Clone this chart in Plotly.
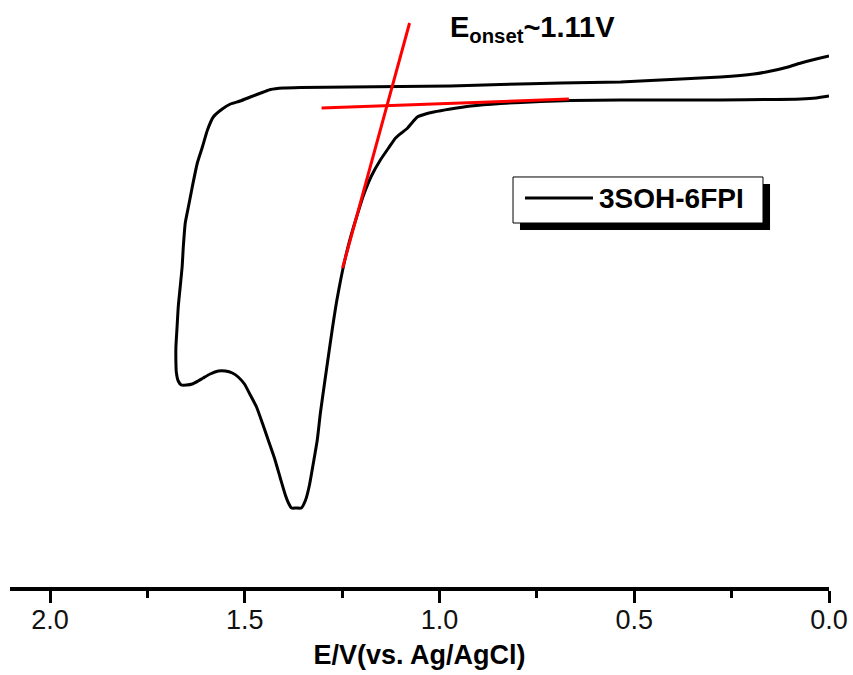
import plotly.graph_objects as go

# Cyclic voltammogram of 3SOH-6FPI (potential in V vs. Ag/AgCl, current in arbitrary units)
potential = [0.000, 0.033, 0.072, 0.105, 0.149, 0.193, 0.278, 0.380, 0.535, 0.689,
             0.843, 0.972, 1.100, 1.229, 1.357, 1.401, 1.434, 1.452, 1.486, 1.512,
             1.537, 1.558, 1.581, 1.596, 1.609, 1.622, 1.635, 1.645, 1.653, 1.658,
             1.661, 1.666, 1.671, 1.674, 1.677, 1.677, 1.676, 1.671, 1.663, 1.650,
             1.635, 1.620, 1.607, 1.589, 1.568, 1.550, 1.532, 1.517, 1.501, 1.486,
             1.470, 1.455, 1.440, 1.424, 1.409, 1.396, 1.388, 1.380, 1.368, 1.355,
             1.344, 1.334, 1.324, 1.314, 1.306, 1.296, 1.285, 1.275, 1.265, 1.254,
             1.242, 1.229, 1.213, 1.195, 1.175, 1.152, 1.131, 1.113, 1.098, 1.082,
             1.069, 1.057, 1.036, 1.015, 0.972, 0.920, 0.843, 0.740, 0.663, 0.535,
             0.380, 0.278, 0.149, 0.072, 0.033, 0.000]
current = [4.4, 4.1, 3.7, 3.3, 2.9, 2.6, 2.3, 2.1, 1.8, 1.7,
           1.55, 1.4, 1.35, 1.3, 1.25, 1.2, 1.05, 0.8, 0.3, -0.1,
           -0.4, -0.9, -1.7, -3.0, -4.7, -6.3, -8.7, -10.7, -12.3, -14.7,
           -16.7, -18.7, -20.7, -22.7, -24.7, -26.2, -27.2, -28.1, -28.5, -28.5,
           -28.4, -28.1, -27.8, -27.4, -27.1, -27.1, -27.3, -27.7, -28.4, -29.5,
           -30.7, -32.3, -34.0, -35.8, -37.8, -39.5, -40.3, -40.8, -40.8, -40.8,
           -40.0, -38.5, -36.3, -34.0, -31.3, -28.5, -25.5, -22.8, -20.3, -18.0,
           -15.8, -13.8, -11.7, -9.5, -7.6, -6.0, -4.8, -3.8, -3.3, -2.8,
           -2.2, -1.7, -1.4, -1.2, -0.9, -0.6, -0.35, -0.15, -0.05, 0.0,
           0.0, 0.0, 0.05, 0.1, 0.2, 0.4]

# Onset construction lines
tangent_x = [1.249, 1.077]
tangent_y = [-16.8, 7.7]
baseline_x = [1.303, 0.668]
baseline_y = [-0.8, 0.1]

series_name = "3SOH-6FPI"
onset_label = "E<sub>onset</sub>~1.11V"
x_title = "E/V(vs. Ag/AgCl)"
x_ticks = [0.0, 0.5, 1.0, 1.5, 2.0]
x_minor_ticks = [0.25, 0.75, 1.25, 1.75]
x_range = [2.103, 0.0]
y_range = [-48.7, 10.0]

FONT = "Liberation Sans, Arial, sans-serif"

fig = go.Figure()
fig.add_trace(go.Scatter(x=potential, y=current, mode="lines", name=series_name,
                         line=dict(color="black", width=3, shape="spline", smoothing=0.5),
                         showlegend=False))
fig.add_trace(go.Scatter(x=tangent_x, y=tangent_y, mode="lines", name="tangent",
                         line=dict(color="#ff0000", width=3), showlegend=False))
fig.add_trace(go.Scatter(x=baseline_x, y=baseline_y, mode="lines", name="baseline",
                         line=dict(color="#ff0000", width=3), showlegend=False))

# Legend box drawn like the original (with drop shadow)
fig.add_shape(type="rect", xref="paper", yref="paper", x0=0.6227, x1=0.9280, y0=0.6082, y1=0.6865,
              fillcolor="black", line=dict(width=0), layer="above")
fig.add_shape(type="rect", xref="paper", yref="paper", x0=0.6142, x1=0.9194, y0=0.6201, y1=0.6985,
              fillcolor="white", line=dict(color="black", width=1), layer="above")
fig.add_shape(type="line", xref="paper", yref="paper", x0=0.6288, x1=0.7118, y0=0.6627, y1=0.6627,
              line=dict(color="black", width=3), layer="above")
fig.add_annotation(xref="paper", yref="paper", x=0.7167, y=0.661, xanchor="left", yanchor="middle",
                   text="<b>" + series_name + "</b>", showarrow=False,
                   font=dict(family=FONT, size=28, color="black"))

fig.add_annotation(xref="paper", yref="paper", x=0.5348, y=0.95, xanchor="left", yanchor="middle",
                   text="<b>" + onset_label + "</b>", showarrow=False,
                   font=dict(family=FONT, size=29, color="black"))

fig.update_layout(
    width=853, height=675,
    margin=dict(l=10, r=24, t=0, b=88),
    paper_bgcolor="white", plot_bgcolor="white",
    font=dict(family=FONT, color="black"),
    xaxis=dict(range=x_range, tickvals=x_ticks, ticktext=[f"{v:.1f}" for v in x_ticks],
               showline=True, linewidth=4, linecolor="black", mirror=False,
               ticks="outside", ticklen=12, tickwidth=3, tickcolor="black",
               ticklabelstandoff=-6,
               minor=dict(tickvals=x_minor_ticks, ticks="outside", ticklen=7,
                          tickwidth=3, tickcolor="black", showgrid=False),
               showgrid=False, zeroline=False,
               tickfont=dict(family=FONT, size=27, color="#111111"),
               title=dict(text="<b>" + x_title + "</b>", standoff=12,
                          font=dict(family=FONT, size=27, color="black"))),
    yaxis=dict(range=y_range, visible=False, showgrid=False, zeroline=False),
)

fig.write_html("out.html", config={"displayModeBar": False},
               post_script="document.body.style.margin='0';document.body.style.overflow='hidden';")
